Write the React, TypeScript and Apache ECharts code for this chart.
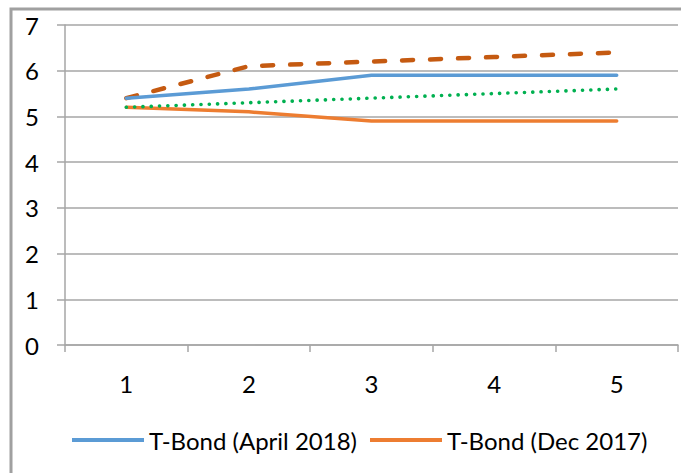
import React, { useEffect, useRef } from "react";
import * as echarts from "echarts";

const categories = ["1", "2", "3", "4", "5"];
const april2018 = [5.4, 5.6, 5.9, 5.9, 5.9];
const dec2017 = [5.2, 5.1, 4.9, 4.9, 4.9];
const forecastDashed = [5.4, 6.1, 6.2, 6.3, 6.4];
const trendDotted = [5.2, 5.3, 5.4, 5.5, 5.6];
const legendNames = ["T-Bond (April 2018)", "T-Bond (Dec 2017)"];

export default function App() {
  const ref = useRef<HTMLDivElement>(null);
  useEffect(() => {
    const chart = echarts.init(ref.current!, null, { renderer: "svg" });
    const font = "Lato, 'Open Sans', sans-serif";
    chart.setOption({
      animation: false,
      backgroundColor: "#ffffff",
      textStyle: { fontFamily: font },
      graphic: [
        {
          type: "rect",
          shape: { x: 11, y: 9, width: 700, height: 500 },
          style: { fill: "none", stroke: "#a0a0a0", lineWidth: 3 },
          silent: true,
        },
      ],
      grid: { left: 65, right: 3, top: 25, bottom: 128, containLabel: false },
      legend: {
        data: legendNames,
        left: 67,
        top: 423,
        icon: "rect",
        itemWidth: 72,
        itemHeight: 4,
        itemGap: 13,
        textStyle: { fontFamily: font, fontSize: 24, color: "#000" },
      },
      xAxis: {
        type: "category",
        data: categories,
        boundaryGap: true,
        axisLine: { show: true, lineStyle: { color: "#a6a6a6", width: 1.5 } },
        axisTick: { show: true, length: 7, inside: false, lineStyle: { color: "#a6a6a6", width: 1.5 } },
        axisLabel: { color: "#000", fontSize: 24, fontFamily: font, margin: 26 },
        splitLine: { show: false },
      },
      yAxis: {
        type: "value",
        min: 0,
        max: 7,
        interval: 1,
        axisLine: { show: true, lineStyle: { color: "#a6a6a6", width: 1.5 } },
        axisTick: { show: true, length: 8, lineStyle: { color: "#a6a6a6", width: 1.5 } },
        axisLabel: { color: "#000", fontSize: 24, fontFamily: font, margin: 26 },
        splitLine: { show: true, lineStyle: { color: "#a6a6a6", width: 1.5 } },
      },
      series: [
        {
          name: "Forecast",
          type: "line",
          data: forecastDashed,
          symbol: "none",
          lineStyle: { color: "#C55A11", width: 4.5, type: [11, 17], cap: "round" },
          itemStyle: { color: "#C55A11" },
          z: 2,
        },
        {
          name: legendNames[0],
          type: "line",
          data: april2018,
          symbol: "none",
          lineStyle: { color: "#5B9BD5", width: 3.5, cap: "round" },
          itemStyle: { color: "#5B9BD5" },
          z: 3,
        },
        {
          name: legendNames[1],
          type: "line",
          data: dec2017,
          symbol: "none",
          lineStyle: { color: "#ED7D31", width: 3.5, cap: "round" },
          itemStyle: { color: "#ED7D31" },
          z: 3,
        },
        {
          name: "Trend",
          type: "line",
          data: trendDotted,
          symbol: "none",
          lineStyle: { color: "#00B050", width: 3.6, type: [0.1, 8.2], cap: "round" },
          itemStyle: { color: "#00B050" },
          z: 4,
        },
      ],
    });
    return () => chart.dispose();
  }, []);
  return (
    <div
      ref={ref}
      style={{ position: "fixed", left: 0, top: 0, width: 681, height: 473 }}
    />
  );
}
